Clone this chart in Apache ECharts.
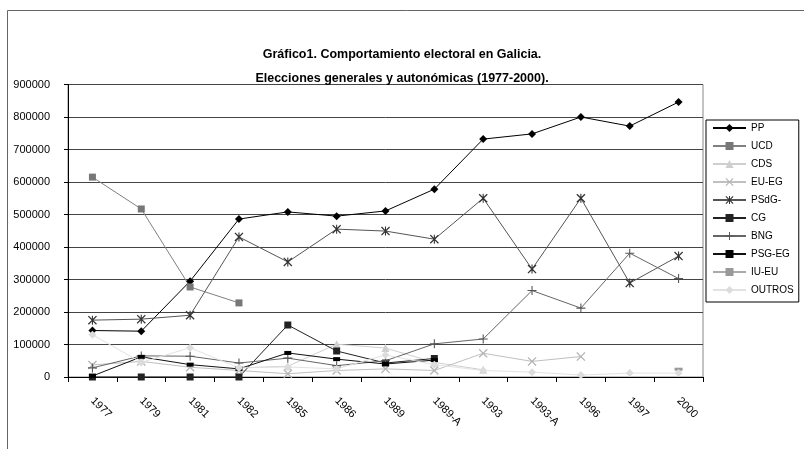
<!DOCTYPE html>
<html>
<head>
<meta charset="utf-8">
<script src="https://cdn.jsdelivr.net/npm/echarts@6/dist/echarts.min.js"></script>
<style>html,body{margin:0;padding:0;background:#fff;}#c{width:804px;height:449px;}</style>
</head>
<body>
<div id="c"></div>
<script>
var categories = ['1977','1979','1981','1982','1985','1986','1989','1989-A','1993','1993-A','1996','1997','2000'];
var yTicks = [0, 900000, 100000];
var PP = [143000, 141000, 295000, 486000, 508000, 495000, 511000, 578000, 732000, 748000, 800000, 772000, 846000];
var UCD = [615000, 517000, 277000, 228000, null, null, null, null, null, null, null, null, null];
var CDS = [null, null, null, 28000, 33000, 101000, 89000, 45000, 22000, null, null, null, null];
var EU_EG = [37000, 48000, 30000, 20000, 10000, 20000, 25000, 20000, 73000, 48000, 63000, null, null];
var PSdG = [175000, 178000, 190000, 431000, 354000, 455000, 449000, 424000, 550000, 332000, 550000, 289000, 372000];
var CG = [0, 0, 0, 0, 160000, 80000, 43000, 57000, null, null, null, null, null];
var BNG = [28000, 65000, 64000, 43000, 58000, 35000, 50000, 102000, 117000, 266000, 212000, 381000, 303000];
var PSG_EG = [3000, 62000, 38000, 25000, 74000, 55000, 40000, 52000, null, null, null, null, null];
var IU_EU = [null, null, null, null, null, null, null, null, null, null, null, null, 24000];
var OUTROS = [130000, 45000, 90000, 28000, 31000, 25000, 68000, 38000, 20000, 15000, 6000, 12000, 12000];

var FONT = 'Liberation Sans, Arial, sans-serif';
var CROSS = 'path://M1,0L5,4L9,0L10,1L6,5L10,9L9,10L5,6L1,10L0,9L4,5L0,1Z';
var STAR = 'path://M1,0L5,4L9,0L10,1L6,5L10,9L9,10L5,6L1,10L0,9L4,5L0,1Z M4.4,0L5.6,0L5.6,10L4.4,10Z';
var PLUS = 'path://M4.4,0L5.6,0L5.6,10L4.4,10Z M0,4.4L10,4.4L10,5.6L0,5.6Z';

function mk(name, data, lineColor, symbol, symColor, size) {
  return {
    name: name, type: 'line', data: data, clip: false,
    symbol: symbol, symbolSize: size, showAllSymbol: true,
    lineStyle: {color: lineColor, width: 1},
    itemStyle: {color: symColor},
    connectNulls: false, animation: false
  };
}

var chart = echarts.init(document.getElementById('c'), null, {renderer: 'canvas'});
chart.setOption({
  backgroundColor: '#fff',
  animation: false,
  textStyle: {fontFamily: FONT},
  title: {
    text: 'Gráfico1. Comportamiento electoral en Galicia.\nElecciones generales y autonómicas (1977-2000).',
    left: 'center', top: 38,
    textStyle: {fontFamily: FONT, fontSize: 12.5, fontWeight: 'bold', color: '#000', lineHeight: 24}
  },
  graphic: [{
    type: 'rect', shape: {x: 7.5, y: 10.5, width: 900, height: 500},
    style: {fill: 'none', stroke: '#666', lineWidth: 1}, silent: true, z: -1
  }],
  legend: {
    orient: 'vertical', left: 706, top: 120,
    padding: [3, 5, 7, 6], itemWidth: 33, itemHeight: 10, itemGap: 8,
    borderColor: '#000', borderWidth: 1,
    textStyle: {fontFamily: FONT, fontSize: 10, color: '#000'},
    data: ['PP','UCD','CDS','EU-EG','PSdG-','CG','BNG','PSG-EG','IU-EU','OUTROS']
  },
  grid: {left: 68, right: 101, top: 84.5, bottom: 72, show: true, borderColor: '#888', borderWidth: 1},
  xAxis: {
    type: 'category', data: categories, boundaryGap: true,
    axisLine: {lineStyle: {color: '#000', width: 1}},
    axisTick: {show: true, length: 5, lineStyle: {color: '#000'}, alignWithLabel: false},
    axisLabel: {rotate: -45, margin: 22, fontSize: 11, color: '#000', fontFamily: FONT, interval: 0}
  },
  yAxis: {
    type: 'value', min: yTicks[0], max: yTicks[1], interval: yTicks[2],
    axisLine: {show: true, lineStyle: {color: '#000', width: 1}},
    axisTick: {show: true, length: 4, lineStyle: {color: '#000'}},
    axisLabel: {margin: 18, fontSize: 11, color: '#000', fontFamily: FONT, formatter: function (v) { return String(v); }},
    splitLine: {show: true, lineStyle: {color: '#444', width: 1}}
  },
  series: [
    mk('PP', PP, '#000', 'diamond', '#000', 8),
    mk('UCD', UCD, '#808080', 'rect', '#777', 7),
    mk('CDS', CDS, '#cfcfcf', 'triangle', '#cfcfcf', 8),
    mk('EU-EG', EU_EG, '#c0c0c0', CROSS, '#b4b4b4', 9),
    mk('PSdG-', PSdG, '#555', STAR, '#333', 9),
    mk('CG', CG, '#222', 'rect', '#222', 7),
    mk('BNG', BNG, '#666', PLUS, '#555', 9),
    mk('PSG-EG', PSG_EG, '#111', 'rect', '#000', [7, 4]),
    mk('IU-EU', IU_EU, '#aaa', 'rect', '#999', [8, 3]),
    mk('OUTROS', OUTROS, '#e2e2e2', 'diamond', '#dcdcdc', 8)
  ]
});
</script>
</body>
</html>
